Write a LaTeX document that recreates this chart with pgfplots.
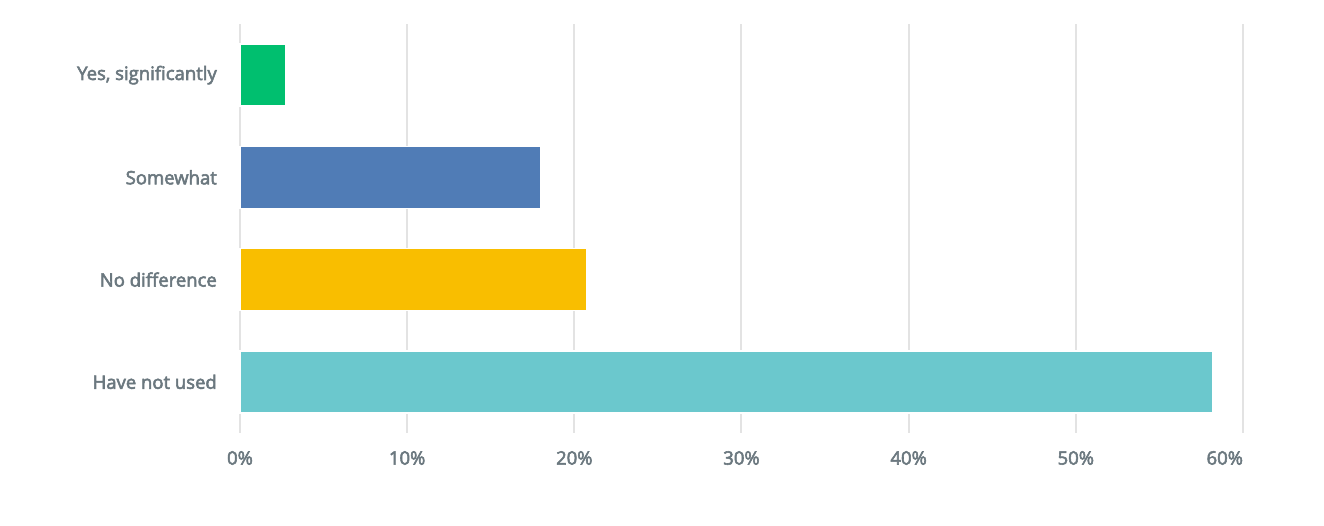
\documentclass[border=0pt]{standalone}
\usepackage{pgfplots}
\pgfplotsset{compat=1.18}
\usepackage{fontspec}
\setmainfont{Open Sans}
\newfontfamily\lblfont{Open Sans}[FakeBold=3]
\definecolor{txt}{HTML}{6B787F}
\definecolor{gridc}{HTML}{E3E3E3}
\definecolor{cgreen}{HTML}{00BF6F}
\definecolor{cblue}{HTML}{507CB6}
\definecolor{cyellow}{HTML}{F9BE00}
\definecolor{cteal}{HTML}{6BC8CD}
\begin{document}
\begin{tikzpicture}[x=1pt,y=1pt]
\path[use as bounding box] (0,0) rectangle (1324,526);
\begin{axis}[
  at={(240pt,93pt)}, anchor=south west,
  scale only axis, width=1003pt, height=409pt,
  xmin=0, xmax=60, ymin=-0.5, ymax=3.5,
  xbar, bar width=62pt, bar shift=0pt,
  axis line style={draw=none},
  major tick length=0pt,
  xtick={0,10,20,30,40,50,60},
  xticklabels={0\%,10\%,20\%,30\%,40\%,50\%,\makebox[0pt][r]{60\%}},
  ytick={0,1,2,3},
  yticklabels={Have not used,No difference,Somewhat,{Yes, significantly}},
  xmajorgrids, major grid style={draw=gridc, line width=2pt},
  tick label style={font=\lblfont\fontsize{18.5}{22}\selectfont, text=txt},
  yticklabel style={inner sep=0pt, xshift=-23pt},
  xticklabel style={inner sep=0pt, yshift=-18pt},
  clip=false,
]
\addplot[fill=cteal, draw=white, line width=1.5pt] coordinates {(58.2,0)};
\addplot[fill=cyellow, draw=white, line width=1.5pt] coordinates {(20.75,1)};
\addplot[fill=cblue, draw=white, line width=1.5pt] coordinates {(18.0,2)};
\addplot[fill=cgreen, draw=white, line width=1.5pt] coordinates {(2.75,3)};
\end{axis}
\end{tikzpicture}
\end{document}
